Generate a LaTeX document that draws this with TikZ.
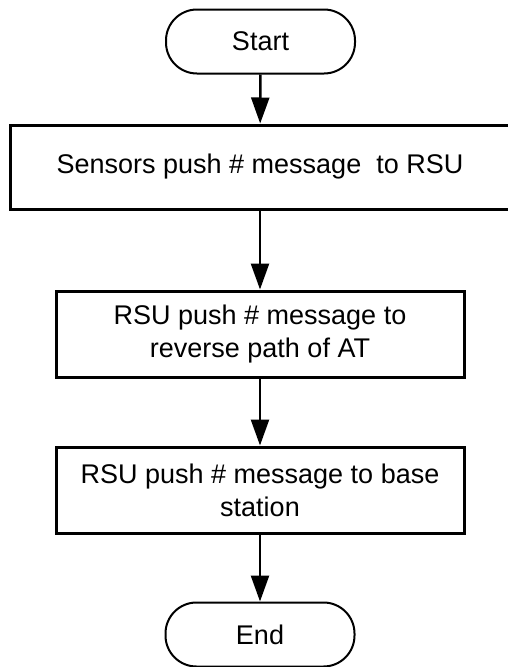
\documentclass[tikz,border=0pt]{standalone}
\usepackage{fontspec}
\setmainfont{Liberation Sans}
\usetikzlibrary{arrows.meta}
\begin{document}
\begin{tikzpicture}[x=1pt,y=-1pt,
  txt/.style={font=\fontsize{27}{33}\selectfont},
  term/.style={draw, line width=2pt, txt, rounded corners=31pt, minimum width=189pt, minimum height=64pt, inner sep=0pt},
  proc/.style={draw, line width=3pt, txt, align=center, inner sep=0pt},
  arr/.style={line width=2.5pt, -{Triangle[length=26pt,width=18pt]}}]
\useasboundingbox (0,0) rectangle (508,667);
\node[term] (start) at (260.5,41.5) {Start};
\node[proc, minimum width=500pt, minimum height=84pt] (s1) at (260,167) {Sensors push \# message\ \ to RSU};
\node[proc, minimum width=408pt, minimum height=86pt] (s2) at (260,334) {RSU push \# message to\\reverse path of AT};
\node[proc, minimum width=408pt, minimum height=86pt] (s3) at (260,490) {RSU push \# message to base\\station};
\node[term] (end) at (260,634.5) {End};
\draw[arr] (start) -- (s1);
\draw[arr] (s1) -- (s2);
\draw[arr] (s2) -- (s3);
\draw[arr] (s3) -- (end);
\end{tikzpicture}
\end{document}
